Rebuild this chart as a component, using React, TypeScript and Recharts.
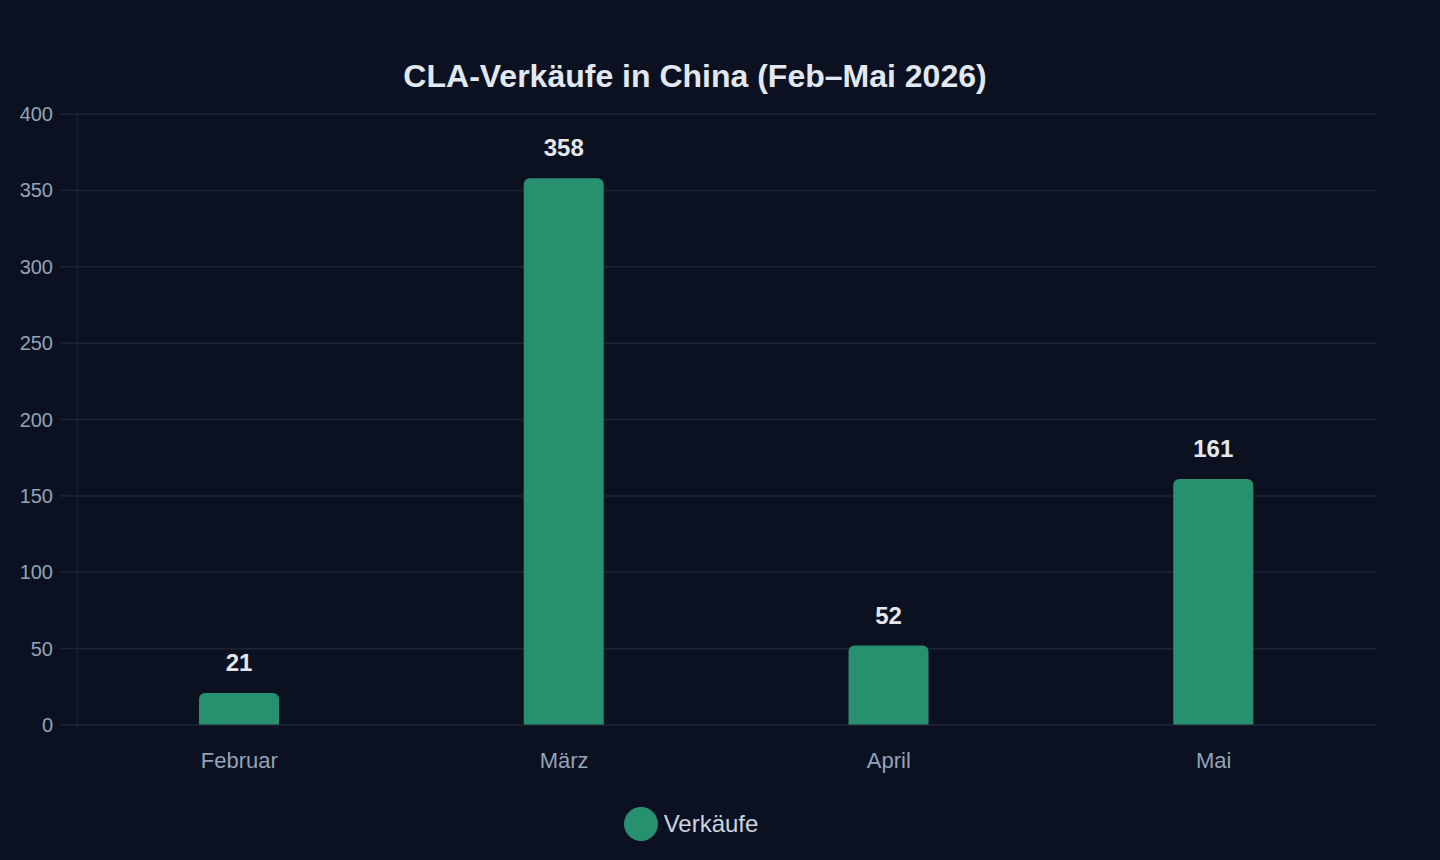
import { BarChart, Bar, XAxis, YAxis, CartesianGrid, Legend, LabelList } from "recharts"

const months = ["Februar", "März", "April", "Mai"]
const sales = [21, 358, 52, 161]
const yTicks = [0, 50, 100, 150, 200, 250, 300, 350, 400]

const chartData = months.map((month, i) => ({ month, sales: sales[i] }))

const BG = "#0b1120"
const GRID = "#1e2535"
const BAR = "#27906e"
const FONT = "'Liberation Sans', Arial, sans-serif"

// Legend with a big round swatch, like the original
const LegendContent = () => (
  <div
    style={{
      display: "flex",
      justifyContent: "center",
      alignItems: "center",
      height: 40,
      paddingLeft: 6,
      fontFamily: FONT,
    }}
  >
    <span style={{ width: 34, height: 34, borderRadius: "50%", background: BAR, marginRight: 6 }} />
    <span style={{ fontSize: 24, color: "#cbd5e1" }}>Verkäufe</span>
  </div>
)

const App = () => {
  return (
    <div style={{ position: "fixed", left: 0, top: 0, width: 1440, height: 860, background: BG, fontFamily: FONT }}>
      <div
        style={{
          position: "absolute",
          top: 60,
          left: 0,
          width: 1390,
          textAlign: "center",
          fontSize: 32,
          lineHeight: "32px",
          fontWeight: "bold",
          color: "#e2e8f0",
        }}
      >
        CLA-Verkäufe in China (Feb–Mai 2026)
      </div>
      <BarChart width={1440} height={860} data={chartData} margin={{ top: 114, right: 64, left: 0, bottom: 16 }}>
        <CartesianGrid vertical={false} stroke={GRID} strokeWidth={1.5} />
        <XAxis
          dataKey="month"
          height={79}
          tickLine={false}
          axisLine={{ stroke: GRID }}
          tickSize={0}
          tickMargin={27}
          tick={{ fill: "#94a3b8", fontSize: 22, fontFamily: FONT }}
        />
        <YAxis
          width={77}
          domain={[0, 400]}
          ticks={yTicks}
          interval={0}
          tickSize={17}
          tickMargin={7}
          tickLine={{ stroke: GRID, strokeWidth: 1.5 }}
          axisLine={{ stroke: GRID }}
          tick={{ fill: "#94a3b8", fontSize: 20, fontFamily: FONT }}
        />
        <Legend verticalAlign="bottom" content={<LegendContent />} />
        <Bar dataKey="sales" fill={BAR} barSize={80} radius={[6, 6, 0, 0]} isAnimationActive={false}>
          <LabelList
            dataKey="sales"
            position="top"
            offset={22}
            fill="#e5e7eb"
            fontSize={24}
            fontWeight="bold"
            fontFamily={FONT}
          />
        </Bar>
      </BarChart>
    </div>
  )
}

export default App
